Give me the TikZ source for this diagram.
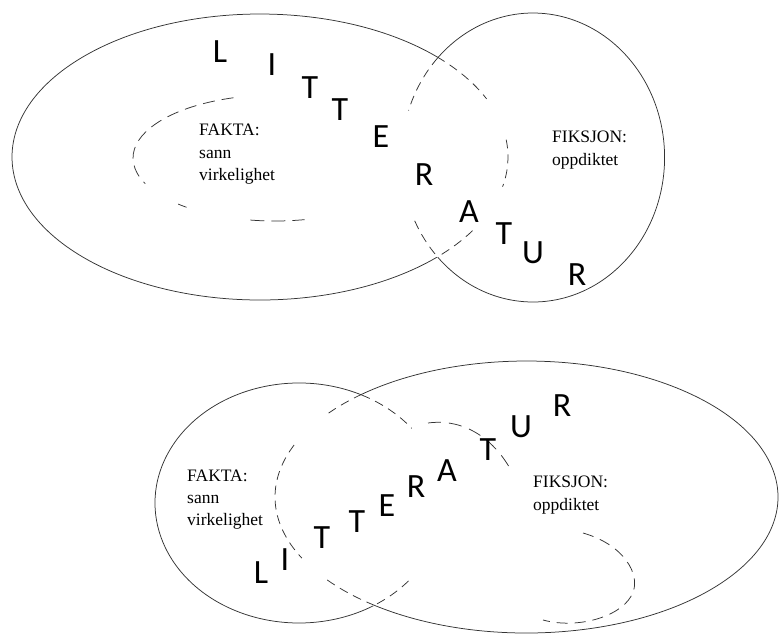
\documentclass[tikz,border=0pt]{standalone}
\usepackage{fontspec}
\setmainfont{Liberation Serif}
\newfontfamily\letterfont{Carlito}
\begin{document}
\begin{tikzpicture}[x=1pt,y=1pt,
  outline/.style={line width=0.75pt, draw=black!80},
  hidden/.style={outline, dash pattern=on 9pt off 6pt},
  bigletter/.style={font=\letterfont\fontsize{34}{34}\selectfont, inner sep=0pt, anchor=base},
  lbl/.style={font=\fontsize{17.5}{20}\selectfont, inner sep=0pt, anchor=base west}]
\useasboundingbox (0,0) rectangle (779,-633);

% ---------- top diagram ----------
\coordinate (e1) at (260,-157);
\coordinate (c1) at (533,-157.5);
\coordinate (i1) at (275,-158);
% big ellipse (literature incl. facts)
\draw[outline] (e1) ++(44.5:248 and 143) arc[start angle=44.5, end angle=315.5, x radius=248, y radius=143];
\draw[hidden] (e1) ++(44.5:248 and 143) arc[start angle=44.5, end angle=24, x radius=248, y radius=143];
\draw[hidden] (e1) ++(7:248 and 143) arc[start angle=7, end angle=-12, x radius=248, y radius=143];
\draw[hidden] (e1) ++(-31:248 and 143) arc[start angle=-31, end angle=-44.5, x radius=248, y radius=143];
% circle (fiction)
\draw[outline] (c1) ++(-136.4:131.6 and 144.5) arc[start angle=-136.4, end angle=136.4, x radius=131.6, y radius=144.5];
\draw[hidden] (c1) ++(136.4:131.6 and 144.5) arc[start angle=136.4, end angle=161, x radius=131.6, y radius=144.5];
\draw[hidden] (c1) ++(206:131.6 and 144.5) arc[start angle=206, end angle=223.6, x radius=131.6, y radius=144.5];
% inner dashed curve
\draw[hidden, dash pattern=on 12pt off 7pt] (i1) ++(107:142 and 63) arc[start angle=107, end angle=204, x radius=142, y radius=63];
\draw[hidden] (i1) ++(227:142 and 63) arc[start angle=227, end angle=233, x radius=142, y radius=63];
\draw[hidden, dash pattern=on 14pt off 7pt] (i1) ++(260:142 and 63) arc[start angle=260, end angle=282, x radius=142, y radius=63];

\node[lbl] (fa1) at (199,-135) {FAKTA:};
\node[lbl] (fa2) at (199,-158) {sann};
\node[lbl] (fa3) at (199,-180) {virkelighet};
\node[lbl] (fi1) at (552,-142) {FIKSJON:};
\node[lbl] (fi2) at (552,-165) {oppdiktet};

\node[bigletter] (t1) at (220,-62) {L};
\node[bigletter] (t2) at (272,-75) {I};
\node[bigletter] (t3) at (310,-98) {T};
\node[bigletter] (t4) at (340,-120) {T};
\node[bigletter] (t5) at (381,-147) {E};
\node[bigletter] (t6) at (424,-185) {R};
\node[bigletter] (t7) at (469,-222) {A};
\node[bigletter] (t8) at (504,-244) {T};
\node[bigletter] (t9) at (533,-263) {U};
\node[bigletter] (t10) at (577,-285) {R};

% ---------- bottom diagram ----------
\coordinate (e2) at (299,-503);
\coordinate (e3) at (526.5,-497);
% small ellipse (facts)
\draw[outline] (e2) ++(64.3:144 and 120) arc[start angle=64.3, end angle=301.1, x radius=144, y radius=120];
\draw[hidden] (e2) ++(64.3:144 and 120) arc[start angle=64.3, end angle=38.5, x radius=144, y radius=120];
\draw[hidden] (e2) ++(-40.5:144 and 120) arc[start angle=-40.5, end angle=-58.9, x radius=144, y radius=120];
% big ellipse (literature incl. fiction)
\draw[outline] (e3) ++(-128:251.5 and 136) arc[start angle=-128, end angle=130.8, x radius=251.5, y radius=136];
\draw[hidden] (e3) ++(130.8:251.5 and 136) arc[start angle=130.8, end angle=141.9, x radius=251.5, y radius=136];
\draw[hidden] (e3) ++(157.5:251.5 and 136) arc[start angle=157.5, end angle=206.7, x radius=251.5, y radius=136];
\draw[hidden] (e3) ++(217.6:251.5 and 136) arc[start angle=217.6, end angle=232, x radius=251.5, y radius=136];
% inner dashed curve
\coordinate (p1) at (428,-423);
\coordinate (p2) at (512,-472);
\coordinate (p3) at (583,-533);
\coordinate (p4) at (633,-592);
\coordinate (p5) at (543,-620);
\draw[hidden, dash pattern=on 13pt off 8pt] (p1) .. controls (465,-418) and (495,-440) .. (p2);
\draw[hidden, dash pattern=on 11pt off 7pt] (p3) .. controls (625,-545) and (640,-575) .. (p4) .. controls (625,-615) and (580,-630) .. (p5);

\node[lbl] (fb1) at (187,-481) {FAKTA:};
\node[lbl] (fb2) at (187,-503) {sann};
\node[lbl] (fb3) at (187,-525) {virkelighet};
\node[lbl] (fj1) at (533,-487) {FIKSJON:};
\node[lbl] (fj2) at (533,-510) {oppdiktet};

\node[bigletter] (b1) at (261,-583) {L};
\node[bigletter] (b2) at (285,-570) {I};
\node[bigletter] (b3) at (322,-548) {T};
\node[bigletter] (b4) at (357,-532) {T};
\node[bigletter] (b5) at (387,-516) {E};
\node[bigletter] (b6) at (416,-497) {R};
\node[bigletter] (b7) at (447,-481) {A};
\node[bigletter] (b8) at (488,-460) {T};
\node[bigletter] (b9) at (521,-437) {U};
\node[bigletter] (b10) at (562,-416) {R};
\end{tikzpicture}
\end{document}
